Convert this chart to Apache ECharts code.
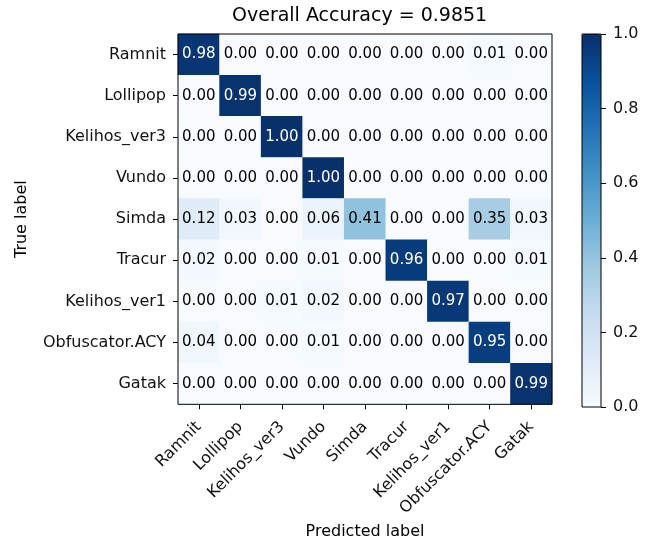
<!DOCTYPE html>
<html>
<head>
<meta charset="utf-8">
<script src="https://cdn.jsdelivr.net/npm/echarts@6/dist/echarts.min.js"></script>
<style>html,body{margin:0;padding:0;background:#fff;}#c{width:653px;height:545px;}</style>
</head>
<body>
<div id="c"></div>
<script>
const categories = ['Ramnit','Lollipop','Kelihos_ver3','Vundo','Simda','Tracur','Kelihos_ver1','Obfuscator.ACY','Gatak'];
const rowRamnit      = [0.98, 0.00, 0.00, 0.00, 0.00, 0.00, 0.00, 0.01, 0.00];
const rowLollipop    = [0.00, 0.99, 0.00, 0.00, 0.00, 0.00, 0.00, 0.00, 0.00];
const rowKelihos3    = [0.00, 0.00, 1.00, 0.00, 0.00, 0.00, 0.00, 0.00, 0.00];
const rowVundo       = [0.00, 0.00, 0.00, 1.00, 0.00, 0.00, 0.00, 0.00, 0.00];
const rowSimda       = [0.12, 0.03, 0.00, 0.06, 0.41, 0.00, 0.00, 0.35, 0.03];
const rowTracur      = [0.02, 0.00, 0.00, 0.01, 0.00, 0.96, 0.00, 0.00, 0.01];
const rowKelihos1    = [0.00, 0.00, 0.01, 0.02, 0.00, 0.00, 0.97, 0.00, 0.00];
const rowObfuscator  = [0.04, 0.00, 0.00, 0.01, 0.00, 0.00, 0.00, 0.95, 0.00];
const rowGatak       = [0.00, 0.00, 0.00, 0.00, 0.00, 0.00, 0.00, 0.00, 0.99];
const colorbarTicks = [0, 0.2, 0.4, 0.6, 0.8, 1.0];
const titleText = 'Overall Accuracy = 0.9851';

const matrix = [rowRamnit,rowLollipop,rowKelihos3,rowVundo,rowSimda,rowTracur,rowKelihos1,rowObfuscator,rowGatak];
const blues = ['#f7fbff','#deebf7','#c6dbef','#9ecae1','#6baed6','#4292c6','#2171b5','#08519c','#08306b'];
const FONT = 'DejaVu Sans';
const data = [];
matrix.forEach((row, i) => row.forEach((v, j) => {
  data.push({value: [j, i, v], label: {color: v > 0.5 ? '#ffffff' : '#000000'}});
}));

const chart = echarts.init(document.getElementById('c'), null, {renderer: 'canvas'});
chart.setOption({
  animation: false,
  backgroundColor: '#ffffff',
  title: {
    text: titleText, left: 232, top: 7, padding: 0,
    textStyle: {fontFamily: FONT, fontSize: 19, fontWeight: 'normal', color: '#000'}
  },
  grid: [
    {left: 178, top: 34, width: 374, height: 373, show: true, z: 10, borderColor: '#000', borderWidth: 1, backgroundColor: 'rgba(0,0,0,0)'},
    {left: 582, top: 34, width: 19, height: 373, show: true, z: 10, borderColor: '#000', borderWidth: 1, backgroundColor: 'rgba(0,0,0,0)'}
  ],
  xAxis: [
    {
      type: 'category', gridIndex: 0, data: categories, position: 'bottom',
      name: 'Predicted label', nameLocation: 'middle', nameGap: 106,
      nameTextStyle: {fontFamily: FONT, fontSize: 16, color: '#000'},
      axisLine: {show: false},
      axisTick: {show: true, alignWithLabel: true, length: 5, lineStyle: {color: '#000'}},
      axisLabel: {rotate: 45, margin: 20, fontFamily: FONT, fontSize: 16, color: '#111', interval: 0},
      splitLine: {show: false}
    },
    {type: 'category', gridIndex: 1, data: [''], show: false}
  ],
  yAxis: [
    {
      type: 'category', gridIndex: 0, data: categories, inverse: true,
      name: 'True label', nameLocation: 'middle', nameGap: 148, nameRotate: 90,
      nameTextStyle: {fontFamily: FONT, fontSize: 16, color: '#000'},
      axisLine: {show: false},
      axisTick: {show: true, alignWithLabel: true, length: 5, lineStyle: {color: '#000'}},
      axisLabel: {margin: 12, fontFamily: FONT, fontSize: 16, color: '#111', interval: 0},
      splitLine: {show: false}
    },
    {
      type: 'value', gridIndex: 1, min: 0, max: 1, interval: 0.2, position: 'right',
      axisLine: {show: false},
      axisTick: {show: true, length: 5, lineStyle: {color: '#000'}},
      axisLabel: {margin: 12, fontFamily: FONT, fontSize: 16, color: '#111',
        formatter: v => colorbarTicks.some(t => Math.abs(t - v) < 1e-9) ? v.toFixed(1) : ''},
      splitLine: {show: false}
    }
  ],
  visualMap: {
    type: 'continuous', min: 0, max: 1, seriesIndex: 0, calculable: false,
    orient: 'vertical', left: 582, top: 34, padding: 0,
    itemWidth: 19, itemHeight: 373, text: null, showLabel: false,
    inRange: {color: blues}
  },
  series: [
    {
      type: 'heatmap', xAxisIndex: 0, yAxisIndex: 0, data: data,
      label: {show: true, fontFamily: FONT, fontSize: 15, formatter: p => p.value[2].toFixed(2)},
      emphasis: {disabled: true}
    },
    {type: 'scatter', xAxisIndex: 1, yAxisIndex: 1, data: [], silent: true}
  ]
});
</script>
</body>
</html>
